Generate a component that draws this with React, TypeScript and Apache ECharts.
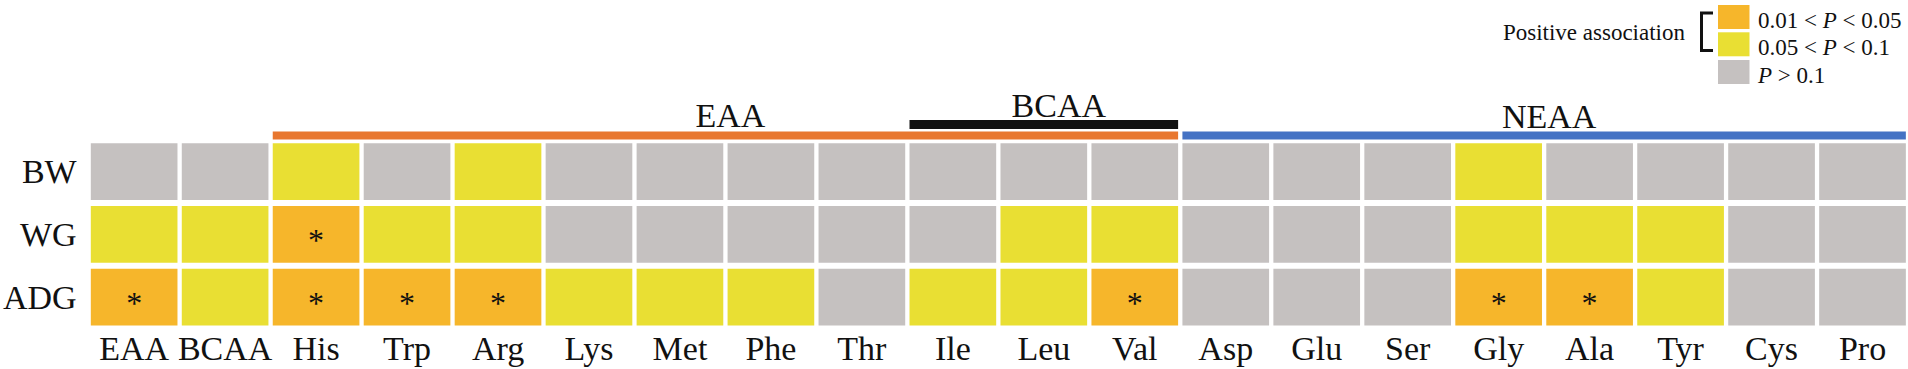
import React, { useEffect, useRef } from "react";
import * as echarts from "echarts";

const columns = ["EAA", "BCAA", "His", "Trp", "Arg", "Lys", "Met", "Phe", "Thr", "Ile", "Leu", "Val", "Asp", "Glu", "Ser", "Gly", "Ala", "Tyr", "Cys", "Pro"];
const rows = ["BW", "WG", "ADG"];
// 0: P > 0.1, 1: 0.05 < P < 0.1, 2: 0.01 < P < 0.05
const levelBW = [0, 0, 1, 0, 1, 0, 0, 0, 0, 0, 0, 0, 0, 0, 0, 1, 0, 0, 0, 0];
const levelWG = [1, 1, 2, 1, 1, 0, 0, 0, 0, 0, 1, 1, 0, 0, 0, 1, 1, 1, 0, 0];
const levelADG = [2, 1, 2, 2, 2, 1, 1, 1, 0, 1, 1, 2, 0, 0, 0, 2, 2, 1, 0, 0];
const groupNames = ["EAA", "BCAA", "NEAA"];
const groupStart = [2, 9, 12];
const groupEnd = [11, 11, 19];
const legendLabels = ["{n|0.01 < }{i|P}{n| < 0.05}", "{n|0.05 < }{i|P}{n| < 0.1}", "{i|P}{n| > 0.1}"];
const legendTitle = "Positive association";

const levelColors = ["#C5C1C0", "#E9DF33", "#F6B62B"];
const groupColors = ["#E8772F", "#111111", "#4472C4"];
const FONT = "Liberation Serif";

export default function App() {
  const ref = useRef<HTMLDivElement>(null);
  useEffect(() => {
    if (!ref.current) return;
    const chart = echarts.init(ref.current, null, { renderer: "svg" });
    const levels = [levelBW, levelWG, levelADG];
    const cellData: number[][] = [];
    levels.forEach((arr, r) => arr.forEach((v, c) => cellData.push([c, r, v])));
    const gapX = 4.3;
    const gapY = 6;

    const groupLayout = [
      { top: -8.8, bottom: -0.8, labelY: -24.6, dx: 5 },
      { top: -20.3, bottom: -11.3, labelY: -35.3, dx: 15 },
      { top: -8.8, bottom: -0.8, labelY: -24.3, dx: 5 },
    ];

    const richStyles = {
      n: { fontFamily: FONT, fontSize: 23, color: "#111", lineHeight: 23 },
      i: { fontStyle: "italic", fontFamily: FONT, fontSize: 23, color: "#111", lineHeight: 23 },
    };
    const titleText = (text: string, left: number | undefined, right: number | undefined, centerY: number) => ({
      text,
      left,
      right,
      top: centerY - 11.5,
      padding: 0,
      itemGap: 0,
      textStyle: { fontFamily: FONT, fontSize: 23, fontWeight: "normal", color: "#111", lineHeight: 23, rich: richStyles },
    });

    const legendGraphics: any[] = [];
    const swatchY = [5, 32.3, 60];
    const textY = [20.5, 47.7, 75.8];
    const legendColorOrder = [2, 1, 0];
    legendLabels.forEach((t, i) => {
      legendGraphics.push({
        type: "rect",
        shape: { x: 1718, y: swatchY[i], width: 31.5, height: 24 },
        style: { fill: levelColors[legendColorOrder[i]] },
      });
    });
    legendGraphics.push({
      type: "polyline",
      shape: { points: [[1713, 13], [1701.5, 13], [1701.5, 50.5], [1713, 50.5]] },
      style: { stroke: "#111", lineWidth: 3, fill: null },
    });

    const titles = [
      titleText("{n|" + legendTitle + "}", undefined, 1908 - 1685, 32.5),
      ...legendLabels.map((t, i) => titleText(t, 1758, undefined, textY[i])),
    ];

    chart.setOption({
      animation: false,
      backgroundColor: "#fff",
      title: titles,
      grid: { left: 84.4, top: 140.3, width: 1824, height: 188.3 },
      xAxis: {
        type: "category",
        data: columns,
        position: "bottom",
        axisLine: { show: false },
        axisTick: { show: false },
        splitLine: { show: false },
        axisLabel: { interval: 0, margin: 3, fontSize: 34, fontFamily: FONT, color: "#111" },
      },
      yAxis: {
        type: "category",
        data: rows,
        inverse: true,
        axisLine: { show: false },
        axisTick: { show: false },
        splitLine: { show: false },
        axisLabel: { margin: 12, fontSize: 34, fontFamily: FONT, color: "#111" },
      },
      graphic: legendGraphics,
      series: [
        {
          type: "custom",
          data: cellData,
          encode: { x: 0, y: 1 },
          renderItem: (params: any, api: any) => {
            const c = api.coord([api.value(0), api.value(1)]);
            const s = api.size([1, 1]);
            const lvl = api.value(2);
            const children: any[] = [
              {
                type: "rect",
                shape: { x: c[0] - s[0] / 2 + gapX / 2, y: c[1] - s[1] / 2 + gapY / 2, width: s[0] - gapX, height: s[1] - gapY },
                style: { fill: levelColors[lvl] },
              },
            ];
            if (lvl === 2) {
              children.push({
                type: "text",
                x: c[0],
                y: c[1] + 6,
                style: { text: "*", fontFamily: FONT, fontSize: 32, fill: "#111", align: "center", verticalAlign: "middle" },
              });
            }
            return { type: "group", children };
          },
        },
        {
          type: "custom",
          data: groupStart.map((s, i) => [s, groupEnd[i], 0]),
          encode: { x: [0, 1], y: 2 },
          renderItem: (params: any, api: any) => {
            const i = params.dataIndex;
            const L = groupLayout[i];
            const s = api.size([1, 1]);
            const x0 = api.coord([api.value(0), 0])[0] - s[0] / 2 + gapX / 2;
            const x1 = api.coord([api.value(1), 0])[0] + s[0] / 2 - gapX / 2;
            const gy = params.coordSys.y;
            return {
              type: "group",
              children: [
                {
                  type: "rect",
                  shape: { x: x0, y: gy + L.top, width: x1 - x0, height: L.bottom - L.top },
                  style: { fill: groupColors[i] },
                },
                {
                  type: "text",
                  x: (x0 + x1) / 2 + L.dx,
                  y: gy + L.labelY,
                  style: { text: groupNames[i], fontFamily: FONT, fontSize: 34, fill: "#111", align: "center", verticalAlign: "middle" },
                },
              ],
            };
          },
        },
      ],
    });
    return () => chart.dispose();
  }, []);
  return <div ref={ref} style={{ position: "fixed", left: 0, top: 0, width: 1908, height: 369 }} />;
}
